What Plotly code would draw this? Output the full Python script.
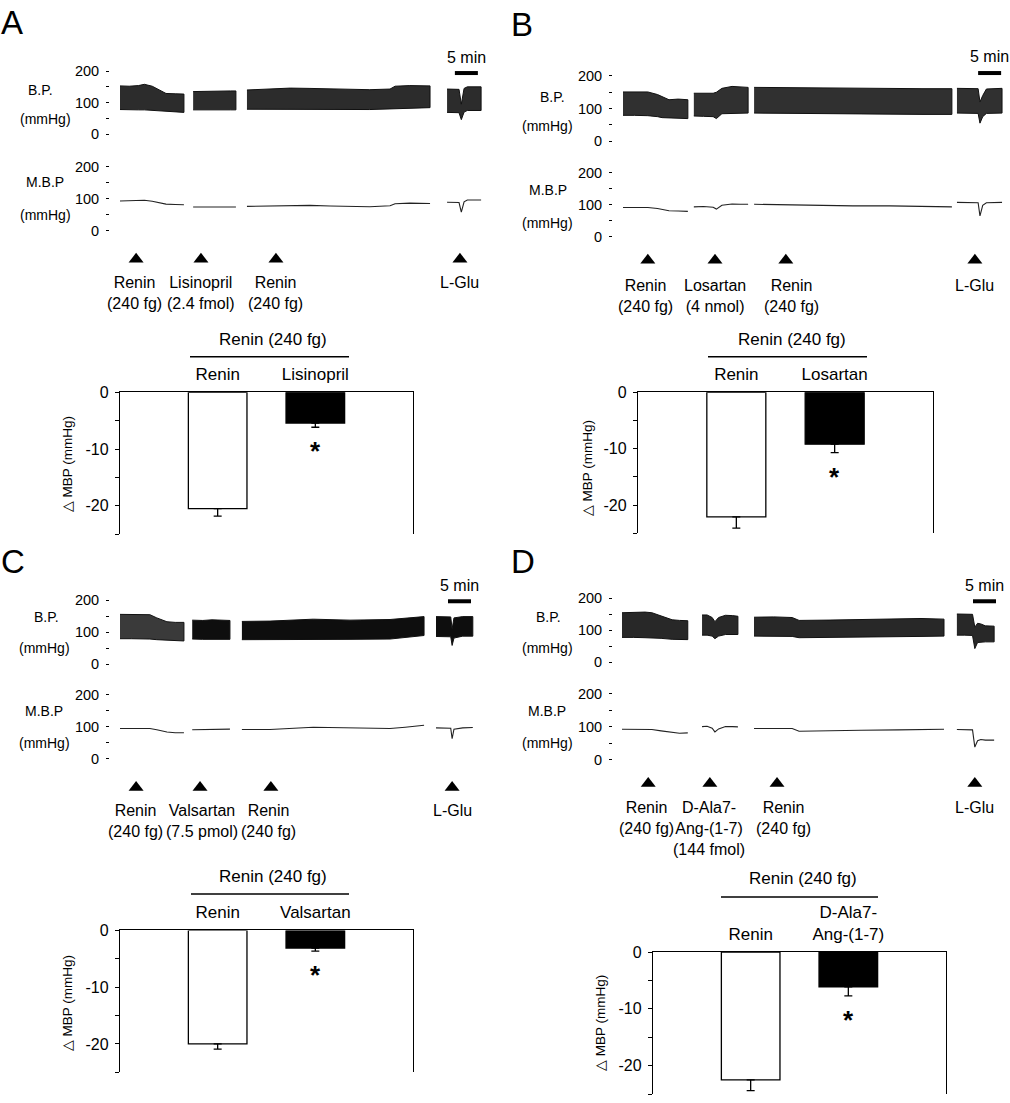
import plotly.graph_objects as go

W, H = 1010, 1103
FONT = "Liberation Sans, Arial, Helvetica, sans-serif"
PX_PER_MIN = 4.6

# ======================= DATA =======================
# ---- Panel A (time in min, pressures in mmHg) ----
A_t = [[0, 2, 4, 5.3, 7, 8.5, 10, 12, 13.9],
       [15.9, 18, 20, 22, 24, 25.2],
       [27.6, 32.6, 37, 41.3, 45.7, 50, 54.3, 58.7, 59.8, 63, 67.4],
       [71.1, 72.5, 73.7, 74.2, 74.8, 75.5, 77, 78.5]]
A_sys = [[153, 152, 154, 158, 152, 140, 129, 128, 127],
         [135, 136, 137, 138, 137, 137],
         [140, 143, 146, 145, 143, 142, 141, 143, 152, 154, 153],
         [143, 143, 142, 95, 145, 150, 150, 150]]
A_dia = [[78, 77, 77, 77, 76, 73, 72, 71, 69],
         [77, 77, 76, 77, 77, 77],
         [79, 79, 80, 79, 79, 78, 78, 80, 82, 83, 84],
         [69, 69, 68, 46, 70, 75, 75, 75]]
A_mbp = [[93, 93, 94, 95, 92, 87, 83, 82, 81],
         [74, 74, 73, 74, 74, 74],
         [76, 77, 80, 79, 77, 76, 75, 78, 84, 86, 85],
         [89, 89, 88, 58, 90, 96, 97, 96]]
A_inj_t = [3.5, 17.6, 33.9, 73.9]
A_inj_labels = ["Renin<br>(240 fg)", "Lisinopril<br>(2.4 fmol)", "Renin<br>(240 fg)", "L-Glu"]
A_groups = ["Renin", "Lisinopril"]
A_dmbp = [-20.5, -5.4]
A_sem = [1.3, 0.75]

# ---- Panel B ----
B_t = [[0, 2.5, 5.4, 7.5, 8.5, 10, 12, 14.1],
       [15.4, 17.5, 19.6, 20.3, 21.5, 23.7, 25.5, 27.2],
       [28.5, 35, 42, 50, 58, 65, 71.5],
       [72.6, 75, 77.2, 77.6, 78.2, 79, 81, 82.4]]
B_sys = [[151, 152, 151, 143, 136, 127, 129, 127],
         [147, 147, 147, 150, 162, 168, 167, 165],
         [165, 164, 163, 162, 162, 161, 161],
         [162, 162, 161, 120, 140, 160, 162, 162]]
B_dia = [[79, 79, 78, 75, 72, 70, 70, 69],
         [77, 76, 75, 69, 84, 86, 85, 86],
         [86, 85, 84, 84, 83, 82, 82],
         [86, 86, 85, 55, 75, 85, 86, 86]]
B_mbp = [[91, 92, 91, 88, 85, 81, 80, 79],
         [93, 94, 92, 86, 98, 102, 101, 101],
         [101, 99, 97, 96, 96, 95, 93],
         [107, 107, 106, 65, 98, 106, 107, 107]]
B_inj_t = [5.4, 20.0, 35.4, 76.5]
B_inj_labels = ["Renin<br>(240 fg)", "Losartan<br>(4 nmol)", "Renin<br>(240 fg)", "L-Glu"]
B_groups = ["Renin", "Losartan"]
B_dmbp = [-22.1, -9.2]
B_sem = [2.0, 1.5]

# ---- Panel C ----
C_t = [[0, 2.5, 5, 6.5, 8, 10.2, 12, 13.9],
       [15.7, 18, 20, 22, 23.9],
       [26.5, 32.6, 42, 50, 58.7, 62, 66.1],
       [68.7, 70.5, 71.9, 72.2, 72.6, 74.5, 76.7]]
C_sys = [[156, 156, 157, 155, 145, 133, 131, 131],
         [138, 137, 139, 138, 137],
         [134, 135, 141, 138, 140, 145, 149],
         [149, 149, 148, 110, 145, 149, 149]]
C_dia = [[80, 80, 80, 79, 77, 74, 74, 73],
         [79, 78, 78, 79, 78],
         [77, 76, 78, 78, 79, 83, 90],
         [87, 87, 86, 59, 82, 88, 88]]
C_mbp = [[95, 95, 96, 95, 91, 84, 82, 82],
         [91, 91, 92, 92, 93],
         [92, 92, 99, 96, 95, 99, 105],
         [97, 97, 96, 63, 93, 97, 98]]
C_inj_t = [3.5, 17.4, 32.8, 72.2]
C_inj_labels = ["Renin<br>(240 fg)", "Valsartan<br>(7.5 pmol)", "Renin<br>(240 fg)", "L-Glu"]
C_groups = ["Renin", "Valsartan"]
C_dmbp = [-20.0, -3.1]
C_sem = [0.9, 0.55]

# ---- Panel D ----
D_t = [[0, 2.5, 5, 6.5, 8.5, 10.9, 12.5, 14.3],
       [17.4, 18.5, 19.6, 20.2, 21, 22.5, 24, 25.2],
       [28.7, 33, 37, 38.5, 45, 52, 60, 65, 70],
       [72.8, 74.5, 76.2, 76.7, 77.3, 78, 79, 80.9]]
D_sys = [[155, 156, 157, 155, 146, 133, 131, 130],
         [148, 148, 140, 127, 140, 147, 146, 144],
         [141, 142, 140, 131, 132, 133, 136, 137, 135],
         [151, 151, 150, 110, 122, 120, 114, 113]]
D_dia = [[78, 78, 77, 77, 75, 72, 71, 71],
         [85, 85, 82, 74, 82, 87, 87, 87],
         [82, 82, 81, 77, 78, 79, 80, 81, 82],
         [85, 85, 84, 43, 62, 64, 64, 64]]
D_mbp = [[93, 93, 94, 92, 88, 84, 81, 82],
         [101, 102, 96, 85, 94, 101, 101, 100],
         [95, 96, 95, 87, 89, 90, 91, 92, 93],
         [92, 92, 91, 39, 58, 62, 60, 60]]
D_inj_t = [5.7, 19.1, 33.7, 76.7]
D_inj_labels = ["Renin<br>(240 fg)", "D-Ala7-<br>Ang-(1-7)<br>(144 fmol)", "Renin<br>(240 fg)", "L-Glu"]
D_groups = ["Renin", "D-Ala7-<br>Ang-(1-7)"]
D_dmbp = [-22.5, -6.1]
D_sem = [1.9, 1.6]

BP_TICKS = [0, 50, 100, 150, 200]
BP_TICKTEXT = ["0", "", "100", "", "200"]
BAR_TICKS = [0, -5, -10, -15, -20, -25]
BAR_TICKTEXT = ["0", "", "-10", "", "-20", ""]
HEADER = "Renin (240 fg)"
SCALE_MIN = 5

# ======================= LAYOUT (pixel positions) =======================
panels = [
    dict(letter="A", lx=12, ly=15, t=A_t, sys=A_sys, dia=A_dia, mbp=A_mbp,
         inj_t=A_inj_t, inj_lab=A_inj_labels, groups=A_groups, dmbp=A_dmbp, sem=A_sem,
         t0=120, axpx=110, rpx=490, bp=(64, 128), mb=(161, 226), arr=255, lab=268,
         labshift=[-2, 0, 0, 0], txtx=(40, 45, 45), txty=(83, 113, 177, 210),
         sb_t=72.8, sb_y=66, sb_txt=50,
         fills=["#2c2c2c"] * 4,
         bx=(120, 413), by=(390, 534), hdr_y=336, line_y=354, line_x=(190, 349), hdr_x=273,
         ylab=(67, 463)),
    dict(letter="B", lx=522, ly=17, t=B_t, sys=B_sys, dia=B_dia, mbp=B_mbp,
         inj_t=B_inj_t, inj_lab=B_inj_labels, groups=B_groups, dmbp=B_dmbp, sem=B_sem,
         t0=623, axpx=613, rpx=1006, bp=(69, 135), mb=(167, 232), arr=256, lab=271,
         labshift=[-2, 0, 6, 0], txtx=(552, 547, 548), txty=(90, 120, 185, 218),
         sb_t=77.2, sb_y=66, sb_txt=49,
         fills=["#303030"] * 4,
         bx=(638, 933), by=(390, 533), hdr_y=336, line_y=354, line_x=(708, 867), hdr_x=792,
         ylab=(587, 467)),
    dict(letter="C", lx=13, ly=562, t=C_t, sys=C_sys, dia=C_dia, mbp=C_mbp,
         inj_t=C_inj_t, inj_lab=C_inj_labels, groups=C_groups, dmbp=C_dmbp, sem=C_sem,
         t0=120, axpx=110, rpx=482, bp=(601, 666), mb=(697, 762), arr=791, lab=804,
         labshift=[-1, 2, -2, 0], txtx=(46, 44, 44), txty=(618, 649, 713, 746),
         sb_t=71.3, sb_y=602, sb_txt=586,
         fills=["#3a3a3a", "#0e0e0e", "#0e0e0e", "#0e0e0e"],
         bx=(120, 413), by=(936, 1080), hdr_y=881, line_y=899, line_x=(191, 349), hdr_x=273,
         ylab=(67, 1010)),
    dict(letter="D", lx=523, ly=562, t=D_t, sys=D_sys, dia=D_dia, mbp=D_mbp,
         inj_t=D_inj_t, inj_lab=D_inj_labels, groups=D_groups, dmbp=D_dmbp, sem=D_sem,
         t0=622, axpx=613, rpx=1002, bp=(599, 664), mb=(696, 763), arr=787, lab=801,
         labshift=[-2, -1, 6, 0], txtx=(548, 547, 547), txty=(618, 649, 713, 746),
         sb_t=76.3, sb_y=602, sb_txt=586,
         fills=["#282828"] * 4,
         bx=(653, 946), by=(958, 1102), hdr_y=883, line_y=902, line_x=(721, 878), hdr_x=803,
         ylab=(600, 1030)),
]


def fx(p):
    return p / W


def fy(p):
    return 1 - p / H


def nm(prefix, n):
    return prefix + ("" if n == 1 else str(n))


fig = go.Figure()
layout = dict(width=W, height=H, margin=dict(l=0, r=0, t=0, b=0), autosize=False,
              paper_bgcolor="white", plot_bgcolor="rgba(0,0,0,0)", showlegend=False,
              font=dict(family=FONT, color="black"))
annotations = []
shapes = []

for i, p in enumerate(panels):
    xt, xb = 2 * i + 1, 2 * i + 2
    ybp, ymb, yar, ybar = 4 * i + 1, 4 * i + 2, 4 * i + 3, 4 * i + 4
    xr = (p["axpx"] - p["t0"]) / PX_PER_MIN, (p["rpx"] - p["t0"]) / PX_PER_MIN

    layout[nm("xaxis", xt)] = dict(domain=[fx(p["axpx"]), fx(p["rpx"])], range=list(xr),
                                   visible=False, anchor=nm("y", ybp))
    for yid, (top, bot) in ((ybp, p["bp"]), (ymb, p["mb"])):
        layout[nm("yaxis", yid)] = dict(
            domain=[fy(bot), fy(top)], range=[0, 200], anchor=nm("x", xt),
            tickvals=BP_TICKS, ticktext=BP_TICKTEXT, ticks="outside", ticklen=3,
            tickwidth=1, tickcolor="black", showline=False, showgrid=False,
            zeroline=False, tickfont=dict(size=14.5), ticklabelstandoff=4)
    layout[nm("yaxis", yar)] = dict(domain=[fy(p["arr"] + 10), fy(p["arr"] - 10)],
                                    range=[0, 1], visible=False, anchor=nm("x", xt))

    # BP band (systolic / diastolic envelope) and MBP line
    for s in range(len(p["t"])):
        tt = p["t"][s]
        xs = tt + tt[::-1]
        ys = p["sys"][s] + p["dia"][s][::-1]
        fig.add_trace(go.Scatter(x=xs, y=ys, fill="toself", fillcolor=p["fills"][s],
                                 mode="lines", line=dict(color="#111111", width=1),
                                 xaxis=nm("x", xt), yaxis=nm("y", ybp), hoverinfo="skip"))
        fig.add_trace(go.Scatter(x=tt, y=p["mbp"][s], mode="lines",
                                 line=dict(color="#222222", width=1.1),
                                 xaxis=nm("x", xt), yaxis=nm("y", ymb), hoverinfo="skip"))

    # injection markers and labels
    fig.add_trace(go.Scatter(x=p["inj_t"], y=[0.5] * len(p["inj_t"]), mode="markers",
                             marker=dict(symbol="triangle-up", size=13, color="black"),
                             xaxis=nm("x", xt), yaxis=nm("y", yar), hoverinfo="skip"))
    for k, (tk, lb) in enumerate(zip(p["inj_t"], p["inj_lab"])):
        annotations.append(dict(text=lb, x=tk, xref=nm("x", xt), y=fy(p["lab"]), yref="paper",
                                xanchor="center", yanchor="top", showarrow=False,
                                xshift=p["labshift"][k], font=dict(size=16), align="center"))

    # panel letter & trace labels
    annotations.append(dict(text=p["letter"], x=fx(p["lx"]), y=fy(p["ly"]), xref="paper",
                            yref="paper", showarrow=False, xanchor="center", yanchor="middle",
                            font=dict(size=33)))
    tx = p["txtx"]
    ty = p["txty"]
    for txt, xx, yy in (("B.P.", tx[0], ty[0]), ("(mmHg)", tx[1], ty[1]),
                        ("M.B.P", tx[2], ty[2]), ("(mmHg)", tx[1], ty[3])):
        annotations.append(dict(text=txt, x=fx(xx), y=fy(yy), xref="paper", yref="paper",
                                showarrow=False, xanchor="center", yanchor="middle",
                                font=dict(size=14)))

    # 5-min scale bar
    shapes.append(dict(type="line", xref=nm("x", xt), yref="paper",
                       x0=p["sb_t"], x1=p["sb_t"] + SCALE_MIN,
                       y0=fy(p["sb_y"]), y1=fy(p["sb_y"]), line=dict(color="black", width=4)))
    annotations.append(dict(text="5 min", x=p["sb_t"] + SCALE_MIN / 2, xref=nm("x", xt),
                            y=fy(p["sb_txt"]), yref="paper", showarrow=False,
                            xanchor="center", yanchor="middle", font=dict(size=16)))

    # ---------- bar chart ----------
    layout[nm("xaxis", xb)] = dict(type="category", domain=[fx(p["bx"][0]), fx(p["bx"][1])],
                                   range=[-1, 2], side="top", anchor=nm("y", ybar),
                                   showline=True, linecolor="black", linewidth=1.3,
                                   ticks="", tickfont=dict(size=17), showgrid=False,
                                   zeroline=False, ticklabelstandoff=4)
    layout[nm("yaxis", ybar)] = dict(domain=[fy(p["by"][1]), fy(p["by"][0])], range=[-25, 0],
                                     anchor=nm("x", xb), showline=True, mirror=True,
                                     linecolor="black", linewidth=1.3, ticks="outside",
                                     ticklen=4, tickwidth=1.2, tickcolor="black",
                                     tickvals=BAR_TICKS, ticktext=BAR_TICKTEXT,
                                     tickfont=dict(size=16), ticklabelstandoff=3,
                                     showgrid=False, zeroline=False)
    fig.add_trace(go.Bar(x=p["groups"], y=p["dmbp"], width=0.6,
                         marker=dict(color=["white", "black"],
                                     line=dict(color="black", width=1.3)),
                         error_y=dict(type="data", symmetric=False, array=[0, 0],
                                      arrayminus=p["sem"], color="black",
                                      thickness=1.3, width=4),
                         xaxis=nm("x", xb), yaxis=nm("y", ybar), hoverinfo="skip"))
    annotations.append(dict(text="<b>*</b>", x=p["groups"][1], xref=nm("x", xb),
                            y=p["dmbp"][1] - p["sem"][1], yref=nm("y", ybar),
                            showarrow=False, xanchor="center", yanchor="top", yshift=-7,
                            font=dict(size=26)))
    bx0, bx1 = p["bx"]
    lf0 = (p["line_x"][0] - bx0) / (bx1 - bx0)
    lf1 = (p["line_x"][1] - bx0) / (bx1 - bx0)
    shapes.append(dict(type="line", xref=nm("x", xb) + " domain", yref="paper",
                       x0=lf0, x1=lf1, y0=fy(p["line_y"]), y1=fy(p["line_y"]),
                       line=dict(color="black", width=1.5)))
    annotations.append(dict(text=HEADER, x=(p["hdr_x"] - bx0) / (bx1 - bx0),
                            xref=nm("x", xb) + " domain", y=fy(p["hdr_y"]), yref="paper",
                            showarrow=False, xanchor="center", yanchor="middle",
                            font=dict(size=17)))
    annotations.append(dict(text="△ MBP (mmHg)", x=fx(p["ylab"][0]), y=fy(p["ylab"][1]),
                            xref="paper", yref="paper", showarrow=False, textangle=-90,
                            xanchor="center", yanchor="middle", font=dict(size=13.5)))

layout["annotations"] = annotations
layout["shapes"] = shapes
fig.update_layout(**layout)

# remove the default page margin so the figure starts at the window's top-left corner
PAGE_FIX = ("document.documentElement.style.margin='0';document.body.style.margin='0';"
            "document.body.style.padding='0';document.body.style.overflow='hidden';")
fig.write_html("out.html", post_script=PAGE_FIX, config={"displayModeBar": False})
